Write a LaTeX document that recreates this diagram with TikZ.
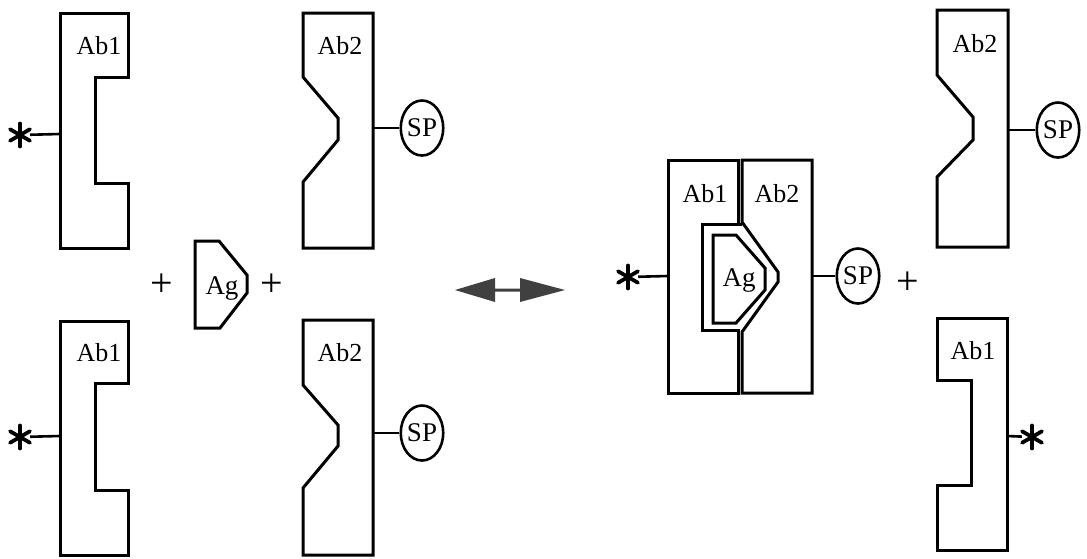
\documentclass[tikz,border=0pt]{standalone}
\usepackage{fontspec}
\setmainfont{Liberation Serif}
\usetikzlibrary{shapes.geometric}
\tikzset{
  ab/.style={line width=3pt, line join=miter},
  lbl/.style={font=\fontsize{26}{26}\selectfont, inner sep=0pt},
  aglbl/.style={font=\fontsize{27}{27}\selectfont, inner sep=0pt},
  plus/.style={font=\fontsize{40}{40}\selectfont, inner sep=0pt},
  spnode/.style={draw, ellipse, line width=2.6pt, minimum width=37pt, minimum height=55pt, inner sep=0pt, font=\fontsize{27}{27}\selectfont},
  lnk/.style={line width=2.6pt},
  astk/.style={circle, inner sep=0pt, minimum size=20pt},
  arm/.style={line width=3.8pt, line cap=round},
}
\newcommand{\drawarms}[1]{\foreach \a in {30,90,150,210,270,330} \draw[arm] (#1.center) -- ++(\a:11.5pt);}
\begin{document}
\begin{tikzpicture}[x=1pt,y=-1pt]
\useasboundingbox[fill=white] (0,0) rectangle (1087,558);

% ---------- top-left Ab1 ----------
\draw[ab] (60,13) -- (128,13) -- (128,77) -- (95,77) -- (95,183) -- (128,183) -- (128,248) -- (60,248) -- cycle;
\node[lbl] (t1) at (99,46) {Ab1};
\coordinate (c1) at (60,134);
\node[astk] (s1) at (20,135) {};
\drawarms{s1}
\draw[lnk] (s1) -- (c1);

% ---------- top-left Ab2 ----------
\draw[ab] (303,13) -- (373,13) -- (373,248) -- (303,248) -- (303,182) -- (338,140) -- (338,118) -- (303,77) -- cycle;
\node[lbl] (t2) at (340,46) {Ab2};
\coordinate (c2) at (373,128);
\node[spnode] (sp1) at (422,128) {SP};
\draw[lnk] (c2) -- (sp1);

% ---------- Ag and plus signs ----------
\draw[ab] (195,241) -- (219,241) -- (247,275) -- (247,293) -- (220,328) -- (195,328) -- cycle;
\node[aglbl] (ag1) at (222,288) {Ag};
\node[plus] (p1) at (162,285) {+};
\node[plus] (p2) at (272,285) {+};

% ---------- bottom-left Ab1 ----------
\draw[ab] (60,321) -- (128,321) -- (128,383) -- (95,383) -- (95,490) -- (128,490) -- (128,555) -- (60,555) -- cycle;
\node[lbl] (t3) at (99,353) {Ab1};
\coordinate (c3) at (60,436);
\node[astk] (s2) at (20,437) {};
\drawarms{s2}
\draw[lnk] (s2) -- (c3);

% ---------- bottom-left Ab2 ----------
\draw[ab] (303,320) -- (373,320) -- (373,555) -- (303,555) -- (303,488) -- (338,446) -- (338,425) -- (303,385) -- cycle;
\node[lbl] (t4) at (340,353) {Ab2};
\coordinate (c4) at (373,433);
\node[spnode] (sp2) at (422,433) {SP};
\draw[lnk] (c4) -- (sp2);

% ---------- double arrow ----------
\fill[black!75] (455,290) -- (495,278) -- (495,288.5) -- (520,288.5) -- (520,278) -- (565,290) -- (520,302) -- (520,291.5) -- (495,291.5) -- (495,302) -- cycle;

% ---------- complex ----------
\draw[ab] (668,160) -- (738,160) -- (738,224) -- (702,224) -- (702,330) -- (738,330) -- (738,393) -- (668,393) -- cycle;
\draw[ab] (742,160) -- (812,160) -- (812,393) -- (742,393) -- (742,332) -- (778,282) -- (778,272) -- (742,222) -- cycle;
\draw[ab] (738,224) -- (742,224);
\draw[ab] (713,235) -- (736,235) -- (765,268) -- (765,290) -- (736,323) -- (713,323) -- cycle;
\node[lbl] (t5) at (705,194) {Ab1};
\node[lbl] (t6) at (777,194) {Ab2};
\node[aglbl] (ag2) at (739,280) {Ag};
\coordinate (c5) at (668,276);
\node[astk] (s3) at (628,277) {};
\drawarms{s3}
\draw[lnk] (s3) -- (c5);
\coordinate (c6) at (812,276);
\node[spnode] (sp3) at (858,276) {SP};
\draw[lnk] (c6) -- (sp3);
\node[plus] (p3) at (908,283) {+};

% ---------- top-right Ab2 ----------
\draw[ab] (937,10) -- (1008,10) -- (1008,247) -- (937,247) -- (937,177) -- (973,140) -- (973,117) -- (937,75) -- cycle;
\node[lbl] (t7) at (975,44) {Ab2};
\coordinate (c7) at (1008,130);
\node[spnode] (sp4) at (1058,130) {SP};
\draw[lnk] (c7) -- (sp4);

% ---------- bottom-right Ab1 ----------
\draw[ab] (937,318) -- (1007,318) -- (1007,550) -- (937,550) -- (937,485) -- (971,485) -- (971,380) -- (937,380) -- cycle;
\node[lbl] (t8) at (973,351) {Ab1};
\coordinate (c8) at (1007,436);
\node[astk] (s4) at (1032,437) {};
\drawarms{s4}
\draw[lnk] (c8) -- (s4);
\end{tikzpicture}
\end{document}
